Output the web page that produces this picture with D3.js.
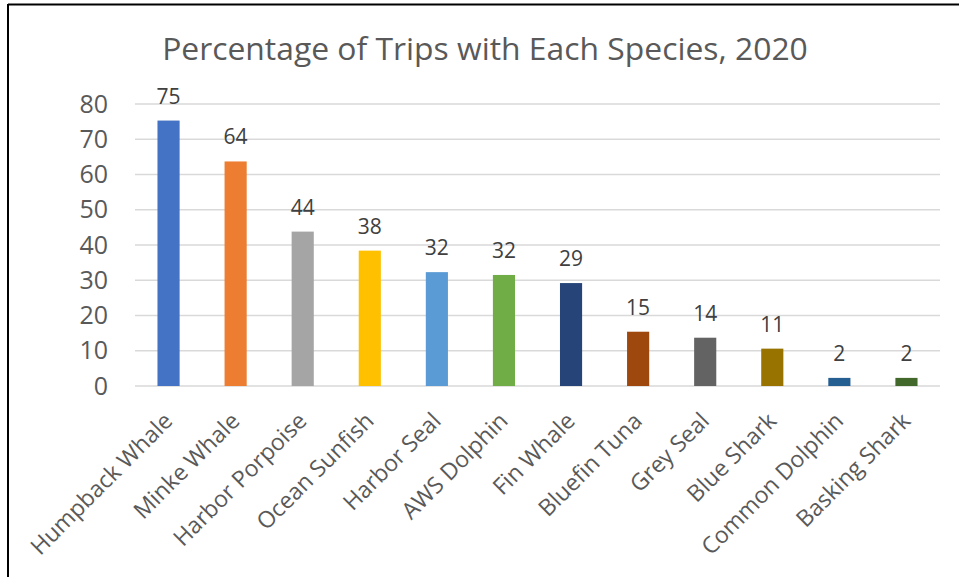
<!DOCTYPE html>
<html>
<head>
<meta charset="utf-8">
<script src="https://cdn.jsdelivr.net/npm/d3@7"></script>
<style>
    body { margin: 0; background: #fff; }
    svg { display: block; font-family: "Open Sans", sans-serif; }
</style>
</head>
<body>
<div id="chart"></div>
<script>
// data
const species = ["Humpback Whale", "Minke Whale", "Harbor Porpoise", "Ocean Sunfish", "Harbor Seal",
    "AWS Dolphin", "Fin Whale", "Bluefin Tuna", "Grey Seal", "Blue Shark", "Common Dolphin", "Basking Shark"];
const percentages = [75.3, 63.7, 43.8, 38.4, 32.3, 31.5, 29.2, 15.4, 13.7, 10.6, 2.3, 2.3];
const barColors = ["#4472C4", "#ED7D31", "#A5A5A5", "#FFC000", "#5B9BD5", "#70AD47",
    "#264478", "#9E480E", "#636363", "#997300", "#255E91", "#43682B"];
const yTicks = [0, 10, 20, 30, 40, 50, 60, 70, 80];
const title = "Percentage of Trips with Each Species, 2020";

let width = 959, height = 577;
let margin = {top: 104, right: 19, bottom: 191, left: 135};
let innerW = width - margin.left - margin.right;
let innerH = height - margin.top - margin.bottom;

let svg = d3.select("#chart").append("svg")
    .attr("width", width)
    .attr("height", height);

// chart frame (only top and left edges visible)
svg.append("line").attr("x1", 8).attr("x2", width).attr("y1", 4.5).attr("y2", 4.5)
    .attr("stroke", "#000").attr("stroke-width", 2);
svg.append("line").attr("x1", 8).attr("x2", 8).attr("y1", 4).attr("y2", height)
    .attr("stroke", "#000").attr("stroke-width", 2);

// title, sized to span the same width as the reference
let titleText = svg.append("text")
    .attr("x", 485)
    .attr("y", 60)
    .attr("text-anchor", "middle")
    .attr("fill", "#595959")
    .style("font-size", "34px")
    .text(title);
let tw = titleText.node().getComputedTextLength();
titleText.style("font-size", (34 * 646 / tw) + "px");

let g = svg.append("g")
    .attr("transform", "translate(" + margin.left + "," + margin.top + ")");

let x = d3.scaleBand()
    .domain(species)
    .range([0, innerW])
    .paddingInner(0.67)
    .paddingOuter(0.335);

let y = d3.scaleLinear()
    .domain([0, 80])
    .range([innerH, 0]);

// gridlines
g.append("g")
    .selectAll("line")
    .data(yTicks)
    .join("line")
    .attr("x1", 0)
    .attr("x2", innerW)
    .attr("y1", d => y(d))
    .attr("y2", d => y(d))
    .attr("stroke", "#d9d9d9")
    .attr("stroke-width", 1.5);

// y axis labels
let yAxis = d3.axisLeft(y).tickValues(yTicks).tickSize(0).tickPadding(27);
g.append("g")
    .attr("class", "y-axis")
    .call(yAxis)
    .call(sel => sel.select(".domain").remove())
    .selectAll("text")
    .attr("fill", "#595959")
    .style("font-size", "25px")
    .style("font-family", "Open Sans, sans-serif");

// bars
g.selectAll(".bar")
    .data(percentages)
    .join("rect")
    .attr("class", "bar")
    .attr("x", (d, i) => x(species[i]))
    .attr("width", x.bandwidth())
    .attr("y", d => y(d))
    .attr("height", d => innerH - y(d))
    .attr("fill", (d, i) => barColors[i]);

// data labels
g.selectAll(".value-label")
    .data(percentages)
    .join("text")
    .attr("class", "value-label")
    .attr("x", (d, i) => x(species[i]) + x.bandwidth() / 2)
    .attr("y", d => y(d) - 17)
    .attr("text-anchor", "middle")
    .attr("fill", "#404040")
    .style("font-size", "21px")
    .text(d => Math.round(d));

// category labels, rotated
let xAxis = d3.axisBottom(x).tickSize(0).tickPadding(0);
g.append("g")
    .attr("class", "x-axis")
    .attr("transform", "translate(0," + innerH + ")")
    .call(xAxis)
    .call(sel => sel.select(".domain").remove())
    .selectAll("text")
    .attr("text-anchor", "end")
    .attr("transform", "translate(-6,25) rotate(-45)")
    .attr("dy", "0.7em")
    .attr("fill", "#595959")
    .style("font-size", "23px")
    .style("font-family", "Open Sans, sans-serif");
</script>
</body>
</html>
